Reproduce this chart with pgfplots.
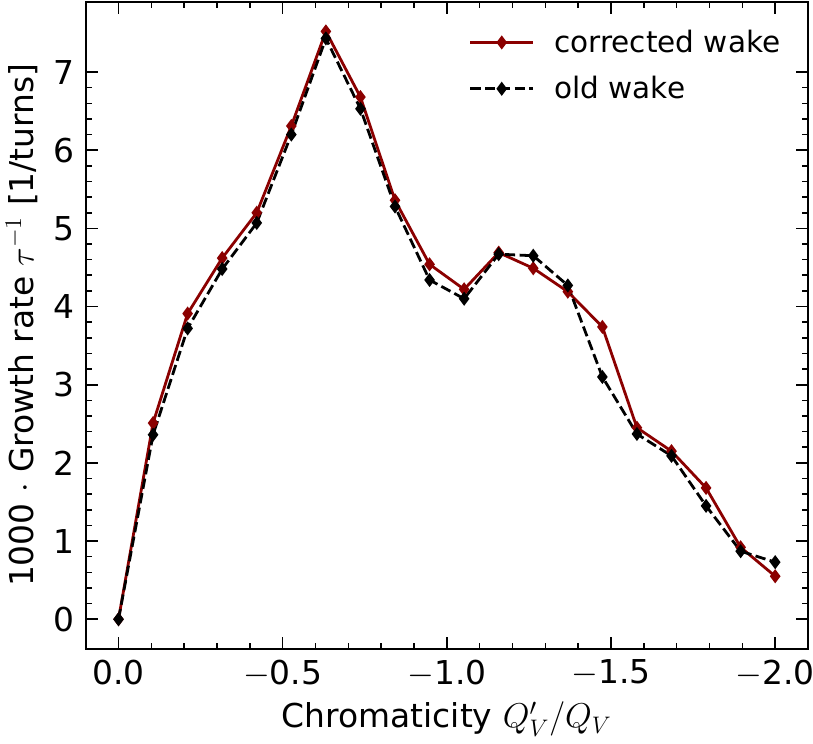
\documentclass[border=0pt]{standalone}
\usepackage{pgfplots}
\pgfplotsset{compat=1.18}
\usepackage{fontspec}
\setmainfont{DejaVu Sans}
\definecolor{cred}{RGB}{139,0,0}
\pgfplotstableread{
x y
0.0 0.00
-0.10526 2.51
-0.21053 3.91
-0.31579 4.62
-0.42105 5.20
-0.52632 6.31
-0.63158 7.52
-0.73684 6.68
-0.84211 5.36
-0.94737 4.54
-1.05263 4.22
-1.15789 4.69
-1.26316 4.49
-1.36842 4.19
-1.47368 3.74
-1.57895 2.45
-1.68421 2.15
-1.78947 1.68
-1.89474 0.92
-2.0 0.55
}\corrected
\pgfplotstableread{
x y
0.0 0.00
-0.10526 2.36
-0.21053 3.72
-0.31579 4.48
-0.42105 5.07
-0.52632 6.20
-0.63158 7.43
-0.73684 6.53
-0.84211 5.28
-0.94737 4.34
-1.05263 4.10
-1.15789 4.67
-1.26316 4.65
-1.36842 4.27
-1.47368 3.10
-1.57895 2.37
-1.68421 2.09
-1.78947 1.45
-1.89474 0.87
-2.0 0.73
}\oldwake
\begin{document}
\begin{tikzpicture}
\begin{axis}[
  name=ax,
  scale only axis,
  width=362.5pt, height=324.5pt,
  x dir=reverse,
  xmin=-2.1, xmax=0.1,
  ymin=-0.376, ymax=7.896,
  xtick={0,-0.5,-1,-1.5,-2},
  xticklabels={0.0,$-$0.5,$-$1.0,$-$1.5,$-$2.0},
  minor xtick={-0.1,-0.2,-0.3,-0.4,-0.6,-0.7,-0.8,-0.9,-1.1,-1.2,-1.3,-1.4,-1.6,-1.7,-1.8,-1.9},
  ytick={0,1,2,3,4,5,6,7},
  minor y tick num=4,
  tick align=inside,
  tick pos=both,
  major tick length=6pt,
  minor tick length=3pt,
  every tick/.style={black, line width=0.8pt},
  axis line style={line width=1pt},
  /pgf/number format/assume math mode=true,
  tick label style={font=\fontsize{16.5}{19}\selectfont},
  xticklabel style={yshift=-2pt},
  yticklabel style={xshift=-2pt},
  label style={font=\fontsize{16.5}{19}\selectfont},
  xlabel style={at={(rel axis cs:0.5,0)}, anchor=center, yshift=-35.5pt},
  ylabel style={at={(rel axis cs:0,0.5)}, anchor=center, yshift=32pt},
  xlabel={Chromaticity $Q'_V/Q_V$},
  ylabel={1000 $\cdot$ Growth rate $\tau^{-1}$ [1/turns]},
  legend style={draw=none, fill=none, at={(0.976,0.97)}, anchor=north east,
    font=\fontsize{14.8}{17}\selectfont, row sep=6.5pt, column sep=8pt},
  legend cell align=left,
  legend image code/.code={
    \draw[#1] (0pt,0pt) -- (31.5pt,0pt);
    \draw[#1, mark repeat=1] plot coordinates {(15.75pt,0pt)};
  },
]
\addplot[cred, line width=1.4pt, mark=diamond*, mark size=2.4pt, mark options={solid}] table[x=x,y=y] {\corrected};
\addlegendentry{corrected wake}
\addplot[black, line width=1.4pt, dash pattern=on 5.2pt off 2.2pt, mark=diamond*, mark size=2.4pt, mark options={solid}] table[x=x,y=y] {\oldwake};
\addlegendentry{old wake}
\end{axis}
\pgfresetboundingbox
\path[use as bounding box] ([shift={(-43pt,-47.5pt)}]ax.south west) rectangle ([shift={(2.5pt,1pt)}]ax.north east);
\end{tikzpicture}
\end{document}
